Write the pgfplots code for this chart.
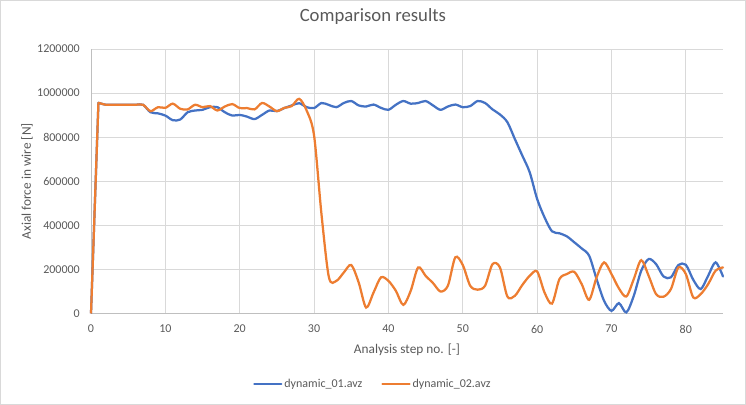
\documentclass[border=0pt]{standalone}
\usepackage{pgfplots}
\pgfplotsset{compat=1.18}
\usepackage{pgfplotstable}
\usepackage{fontspec}
\setmainfont{Carlito}
\definecolor{sblue}{HTML}{4472C4}
\definecolor{sorange}{HTML}{ED7D31}
\definecolor{txt}{HTML}{595959}
\definecolor{grd}{HTML}{D9D9D9}
\definecolor{axl}{HTML}{BFBFBF}

\pgfplotstableread{
x y
0 0
1 956000
2 947000
3 947000
4 947000
5 947000
6 947000
7 947000
8 913000
9 908000
10 898000
11 877000
12 880000
13 913000
14 921000
15 924000
16 936000
17 936000
18 913000
19 898000
20 901000
21 893000
22 882000
23 901000
24 921000
25 918000
26 932000
27 944000
28 954000
29 936000
30 932000
31 955000
32 946000
33 936000
34 955000
35 964000
36 944000
37 939000
38 948000
39 933000
40 924000
41 947000
42 964000
43 952000
44 955000
45 964000
46 944000
47 924000
48 939000
49 948000
50 936000
51 941000
52 964000
53 955000
54 926000
55 903000
56 868000
57 792000
58 717000
59 641000
60 520000
61 436000
62 373000
63 364000
64 350000
65 323000
66 295000
67 262000
68 156000
69 58000
70 12000
71 47000
72 5000
73 80000
74 194000
75 247000
76 224000
77 168000
78 164000
79 220000
80 221000
81 153000
82 111000
83 171000
84 232000
85 168000
}\blue

\pgfplotstableread{
x y
0 0
1 956000
2 947000
3 947000
4 947000
5 947000
6 947000
7 947000
8 918000
9 936000
10 933000
11 952000
12 929000
13 926000
14 947000
15 936000
16 941000
17 921000
18 939000
19 950000
20 932000
21 932000
22 926000
23 955000
24 939000
25 918000
26 933000
27 941000
28 974000
29 921000
30 808000
31 450000
32 164000
33 148000
34 186000
35 220000
36 141000
37 27000
38 95000
39 164000
40 148000
41 103000
42 39000
43 103000
44 209000
45 171000
46 138000
47 100000
48 126000
49 255000
50 220000
51 126000
52 108000
53 126000
54 224000
55 209000
56 77000
57 80000
58 129000
59 171000
60 191000
61 95000
62 45000
63 156000
64 179000
65 189000
66 133000
67 62000
68 164000
69 232000
70 179000
71 114000
72 77000
73 156000
74 242000
75 171000
76 88000
77 76000
78 111000
79 209000
80 179000
81 73000
82 88000
83 133000
84 194000
85 209000
}\orange

\begin{document}
\begin{tikzpicture}
\useasboundingbox (0,0) rectangle (746bp,405bp);
\draw[grd, line width=0.75bp] (0.4bp,0.4bp) rectangle (745.6bp,404.6bp);
\begin{axis}[
  at={(91bp,91.5bp)}, anchor=south west,
  scale only axis, width=632bp, height=264.5bp,
  xmin=0, xmax=85, ymin=0, ymax=1200000,
  xtick={0,10,20,30,40,50,60,70,80},
  xticklabels={0,10,20,30,40,50,60,70,80},
  ytick={0,200000,400000,600000,800000,1000000,1200000},
  yticklabels={0,200000,400000,600000,800000,1000000,1200000},
  scaled y ticks=false, scaled x ticks=false,
  axis x line=bottom, axis y line=left,
  axis line style={draw=axl, line width=0.75bp, -},
  grid=major, major grid style={draw=grd, line width=0.75bp},
  major tick length=0pt,
  tick label style={font=\fontsize{12bp}{14bp}\selectfont, text=txt},
  xticklabel style={anchor=center, yshift=-15.5bp},
  yticklabel style={anchor=east, inner sep=0pt, xshift=-11bp},
  title={Comparison results},
  title style={at={(0.446,1.0995)}, anchor=center, font=\fontsize{18.7bp}{22bp}\selectfont, text=txt},
  xlabel={Analysis step no. [-]},
  xlabel style={at={(0.5,-0.138)}, anchor=center, font=\fontsize{13.3bp}{16bp}\selectfont, text=txt},
  ylabel={Axial force in wire [N]},
  ylabel style={at={(-0.1013,0.5)}, anchor=center, rotate=0, font=\fontsize{13.3bp}{16bp}\selectfont, text=txt},
  legend columns=2,
  legend style={at={(0.446,-0.2665)}, anchor=center, draw=none, fill=none,
    font=\fontsize{12bp}{14bp}\selectfont, text=txt,
    /tikz/every even column/.append style={column sep=17bp}},
  legend cell align=left,
  legend image code/.code={\draw[#1] (0bp,0bp) -- (27bp,0bp);},
  clip=false,
]
% initial rise (straight) from step 0 to 1
\addplot[sblue, line width=2.25bp, forget plot, restrict x to domain=0:1] table[x=x,y=y] {\blue};
\addplot[sorange, line width=2.25bp, forget plot, restrict x to domain=0:1] table[x=x,y=y] {\orange};
% smoothed remainder
\addplot[sblue, line width=2.25bp, smooth, tension=0.5, line cap=round, restrict x to domain=1:85] table[x=x,y=y] {\blue};
\addlegendentry{dynamic\_01.avz}
\addplot[sorange, line width=2.25bp, smooth, tension=0.5, line cap=round, restrict x to domain=1:85] table[x=x,y=y] {\orange};
\addlegendentry{dynamic\_02.avz}
\end{axis}
\end{tikzpicture}
\end{document}
